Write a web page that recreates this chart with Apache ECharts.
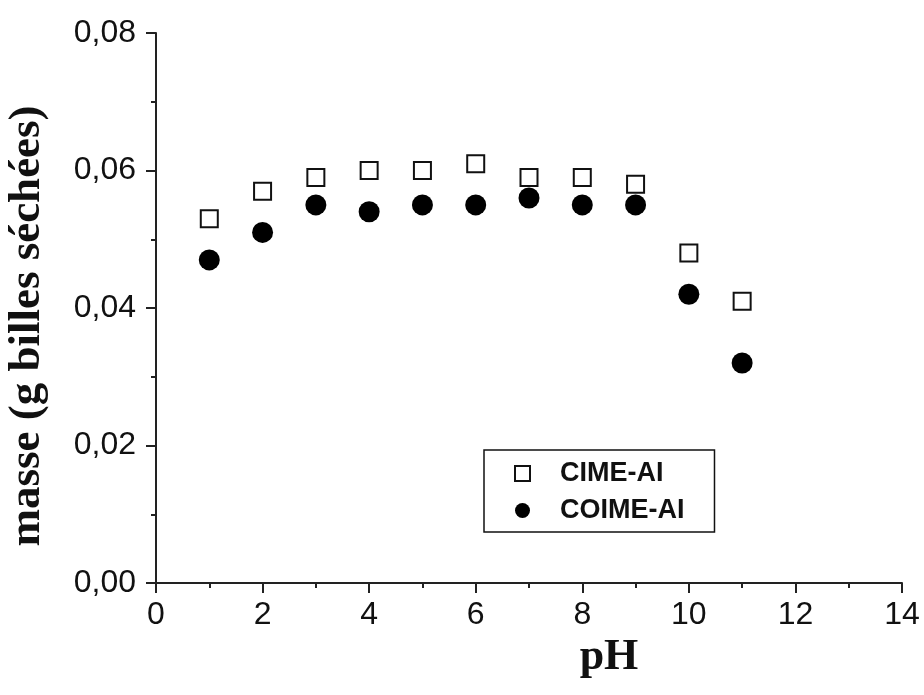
<!DOCTYPE html>
<html>
<head>
<meta charset="utf-8">
<script src="https://cdn.jsdelivr.net/npm/echarts@6/dist/echarts.min.js"></script>
<style>
  html, body { margin: 0; padding: 0; background: #fff; }
  #chart { width: 924px; height: 695px; }
</style>
</head>
<body>
<div id="chart"></div>
<script>
// pH values and measured masses
const phValues = [1, 2, 3, 4, 5, 6, 7, 8, 9, 10, 11];
const cimeMass = [0.053, 0.057, 0.059, 0.060, 0.060, 0.061, 0.059, 0.059, 0.058, 0.048, 0.041];
const coimeMass = [0.047, 0.051, 0.055, 0.054, 0.055, 0.055, 0.056, 0.055, 0.055, 0.042, 0.032];
const seriesNames = ['CIME-AI', 'COIME-AI'];

const chart = echarts.init(document.getElementById('chart'));

const axisColor = '#222';
const labelFont = { color: '#111', fontSize: 32, fontFamily: 'Liberation Sans, Arial, sans-serif' };

const option = {
    animation: false,
    backgroundColor: '#fff',
    grid: { left: 156, right: 22, top: 33, bottom: 112, outerBoundsMode: 'none' },
    legend: {
        orient: 'vertical',
        left: 484,
        top: 450,
        padding: [10, 30, 8, 30],
        itemWidth: 15,
        itemHeight: 15,
        itemGap: 10,
        borderColor: '#111',
        borderWidth: 1.5,
        textStyle: {
            color: '#111', fontSize: 27, fontWeight: 'bold',
            fontFamily: 'Liberation Sans, Arial, sans-serif',
            padding: [0, 0, 0, 25]
        },
        data: [
            { name: seriesNames[0], icon: 'rect', itemStyle: { color: '#fff', borderColor: '#111', borderWidth: 2 } },
            { name: seriesNames[1], icon: 'circle', itemStyle: { color: '#000' } }
        ]
    },
    xAxis: {
        type: 'value',
        min: 0,
        max: 14,
        interval: 2,
        name: 'pH',
        nameLocation: 'middle',
        nameGap: 50,
        nameTextStyle: {
            color: '#111', fontSize: 44, fontWeight: 'bold',
            fontFamily: 'Liberation Serif, Times New Roman, serif',
            padding: [0, 0, 0, 160]
        },
        axisLine: { lineStyle: { color: axisColor, width: 2 } },
        axisTick: { inside: false, length: 10, lineStyle: { color: axisColor, width: 2 } },
        minorTick: { show: true, splitNumber: 2, length: 5, lineStyle: { color: axisColor, width: 2 } },
        axisLabel: Object.assign({ margin: 16 }, labelFont),
        splitLine: { show: false }
    },
    yAxis: {
        type: 'value',
        min: 0,
        max: 0.08,
        interval: 0.02,
        name: 'masse (g billes séchées)',
        nameLocation: 'middle',
        nameGap: 106,
        nameTextStyle: {
            color: '#111', fontSize: 45, fontWeight: 'bold',
            fontFamily: 'Liberation Serif, Times New Roman, serif',
            padding: [0, 36, 0, 0]
        },
        axisLine: { show: true, lineStyle: { color: axisColor, width: 2 } },
        axisTick: { show: true, inside: false, length: 10, lineStyle: { color: axisColor, width: 2 } },
        minorTick: { show: true, splitNumber: 2, length: 5, lineStyle: { color: axisColor, width: 2 } },
        axisLabel: Object.assign({
            margin: 20,
            formatter: (v) => v.toFixed(2).replace('.', ',')
        }, labelFont),
        splitLine: { show: false }
    },
    series: [
        {
            name: seriesNames[0],
            type: 'scatter',
            symbol: 'rect',
            symbolSize: 17,
            itemStyle: { color: '#fff', borderColor: '#111', borderWidth: 2, opacity: 1 },
            data: phValues.map((x, i) => [x, cimeMass[i]])
        },
        {
            name: seriesNames[1],
            type: 'scatter',
            symbol: 'circle',
            symbolSize: 21,
            itemStyle: { color: '#000', opacity: 1 },
            data: phValues.map((x, i) => [x, coimeMass[i]])
        }
    ]
};

chart.setOption(option);
</script>
</body>
</html>
